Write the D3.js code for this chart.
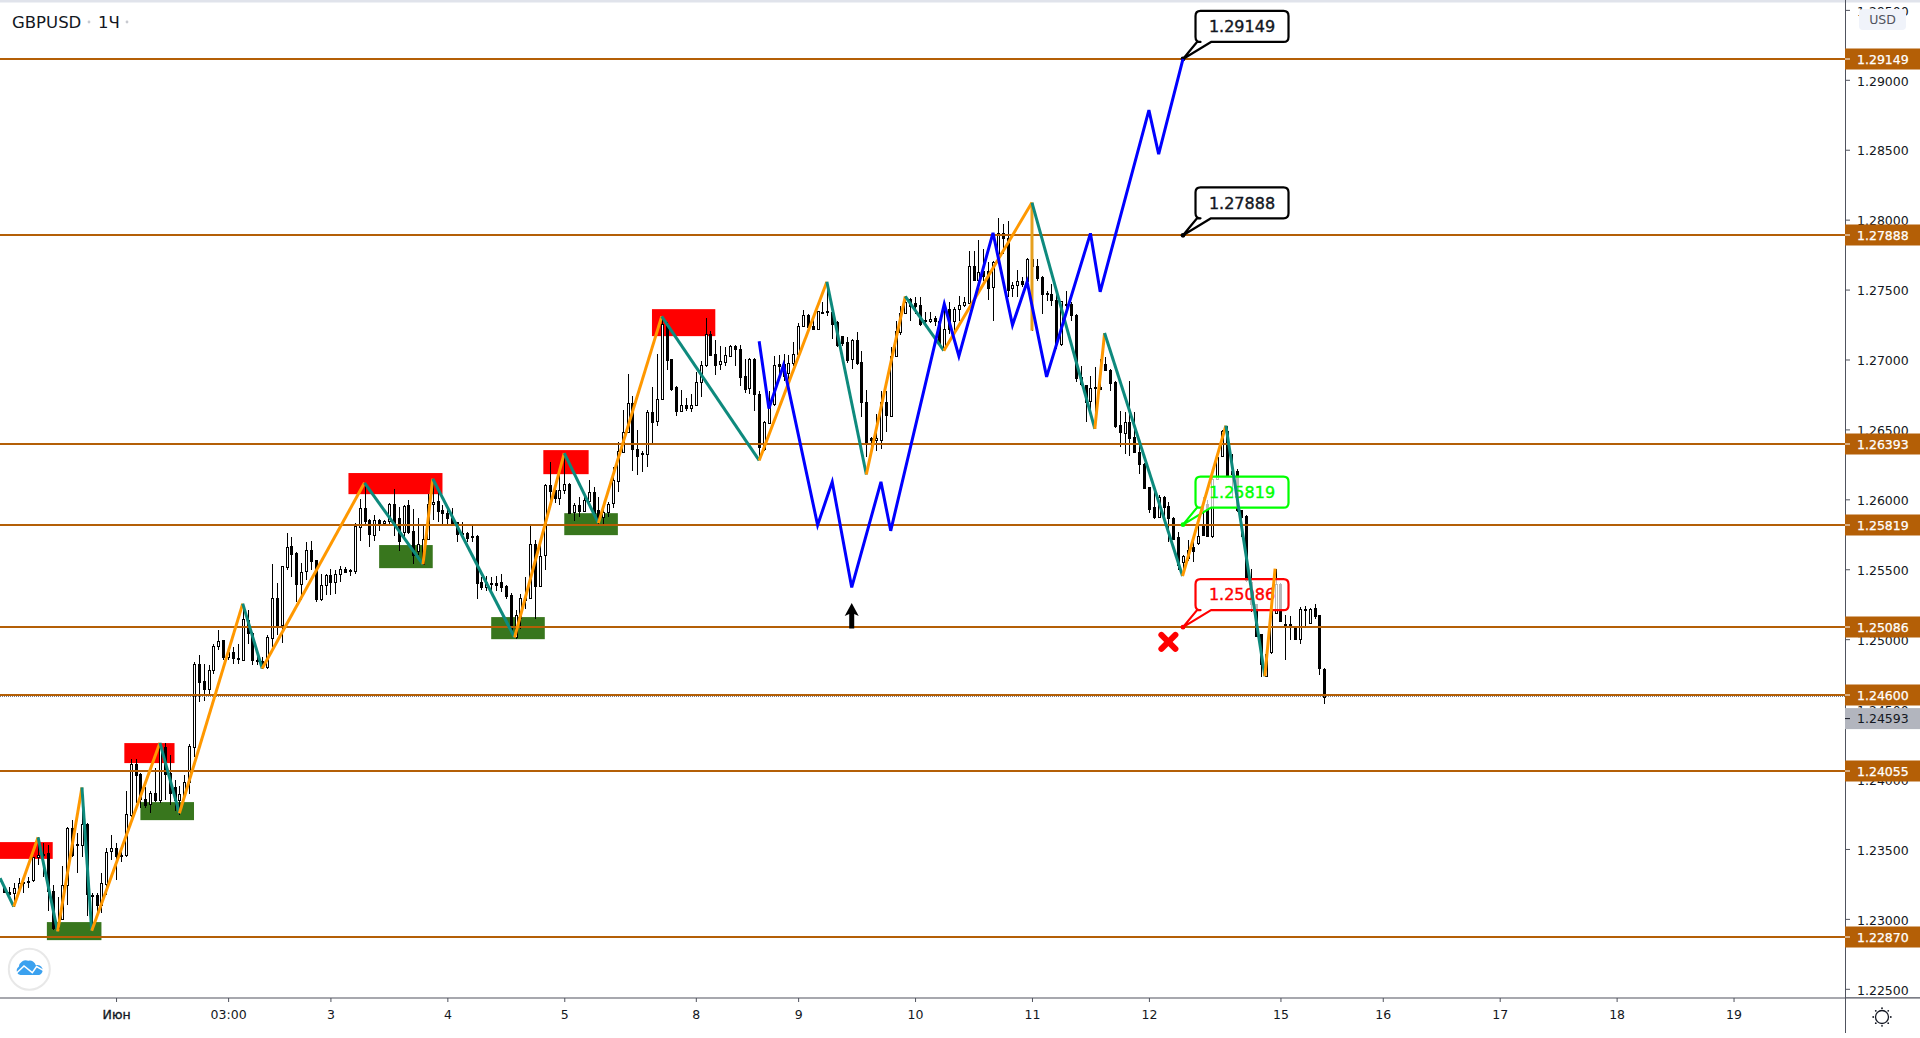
<!DOCTYPE html>
<html>
<head>
<meta charset="utf-8">
<title>GBPUSD</title>
<script src="https://cdn.jsdelivr.net/npm/d3@7"></script>
<style>
	html,body{margin:0;padding:0;background:#fff;overflow:hidden;}
	svg{display:block;}
	text{font-family:"DejaVu Sans",sans-serif;}
</style>
</head>
<body>
<svg id="chart" width="1920" height="1038"></svg>
<script>
//candles, one row per hour: open, high, low, close
var candlesMay29=[
[1.23226,1.23243,1.23184,1.23188],[1.23195,1.23231,1.23160,1.23184],[1.23184,1.23255,1.23088,1.23219],[1.23219,1.23291,1.23184,1.23260],
[1.23267,1.23279,1.23184,1.23260],[1.23274,1.23303,1.23219,1.23267],[1.23279,1.23445,1.23267,1.23441],[1.23441,1.23583,1.23386,1.23457],
[1.23464,1.23541,1.23303,1.23457],[1.23469,1.23529,1.23053,1.23195],[1.23200,1.23243,1.22922,1.22934],[1.22934,1.23160,1.22905,1.22946],
[1.22998,1.23381,1.22993,1.23241],[1.23243,1.23660,1.23100,1.23648],[1.23648,1.23707,1.23445,1.23457],[1.23533,1.23612,1.23326,1.23526],
[1.23529,1.23898,1.23445,1.23676],[1.23676,1.23683,1.23017,1.23172],[1.23172,1.23184,1.22922,1.23165],[1.23172,1.23184,1.23041,1.23100],
[1.23100,1.23326,1.23041,1.23255],[1.23255,1.23505,1.23172,1.23481],[1.23481,1.23600,1.23422,1.23505]];

var candlesJun1=[
[1.23505,1.23541,1.23279,1.23445],[1.23457,1.23505,1.23410,1.23450],[1.23457,1.23914,1.23445,1.23748],[1.23743,1.24140,1.23731,1.24107],
[1.24107,1.24140,1.23826,1.24028],[1.24033,1.24040,1.23790,1.23855],[1.23855,1.23945,1.23790,1.23814],[1.23821,1.23917,1.23755,1.23898],
[1.23898,1.24076,1.23838,1.23850],[1.23855,1.24255,1.23826,1.24231],[1.24231,1.24255,1.23850,1.24040],[1.24040,1.24171,1.23814,1.23898],
[1.23945,1.23993,1.23774,1.23850],[1.23845,1.23950,1.23743,1.23890],[1.23886,1.24028,1.23850,1.23976],[1.23981,1.24250,1.23893,1.24236],
[1.24236,1.24838,1.24159,1.24826],[1.24826,1.24885,1.24552,1.24695],[1.24700,1.24826,1.24559,1.24643],[1.24647,1.24814,1.24600,1.24783],
[1.24783,1.24964,1.24754,1.24952],[1.24952,1.25064,1.24921,1.24988],[1.24992,1.24997,1.24854,1.24869],[1.24873,1.24945,1.24850,1.24909],
[1.24909,1.24945,1.24826,1.24869],[1.24869,1.24969,1.24826,1.24861],[1.24854,1.25254,1.24850,1.25147],[1.25135,1.25207,1.24969,1.25040],
[1.25045,1.25052,1.24814,1.24850],[1.24854,1.24885,1.24814,1.24847],[1.24845,1.24873,1.24790,1.24802],[1.24802,1.25028,1.24790,1.25016],
[1.25011,1.25540,1.24945,1.25298],[1.25298,1.25405,1.25029,1.25100],[1.25100,1.25521,1.24974,1.25521],[1.25517,1.25759,1.25493,1.25659],
[1.25664,1.25731,1.25445,1.25607],[1.25617,1.25624,1.25267,1.25398],[1.25398,1.25545,1.25279,1.25483],[1.25483,1.25695,1.25421,1.25636],
[1.25636,1.25700,1.25493,1.25559],[1.25564,1.25564,1.25267,1.25286],[1.25286,1.25469,1.25274,1.25386],[1.25386,1.25469,1.25314,1.25457]];

var candlesJun3=[
[1.25457,1.25505,1.25314,1.25409],[1.25409,1.25493,1.25326,1.25469],[1.25469,1.25521,1.25409,1.25505],[1.25505,1.25517,1.25481,1.25486],
[1.25495,1.25505,1.25452,1.25488],[1.25486,1.25833,1.25469,1.25807],[1.25807,1.26004,1.25702,1.25940],[1.25940,1.26114,1.25826,1.25845],
[1.25850,1.25862,1.25659,1.25747],[1.25747,1.25885,1.25702,1.25855],[1.25855,1.25862,1.25774,1.25831],[1.25831,1.25850,1.25826,1.25845],
[1.25845,1.25974,1.25814,1.25964],[1.25964,1.26075,1.25735,1.25814],[1.25868,1.25945,1.25630,1.25707],[1.25766,1.25956,1.25730,1.25952],
[1.25956,1.25992,1.25754,1.25766],[1.25771,1.25933,1.25540,1.25599],[1.25630,1.25868,1.25599,1.25683],[1.25540,1.25826,1.25535,1.25718],
[1.25718,1.26040,1.25707,1.25968],[1.25968,1.26147,1.25849,1.25983],[1.25985,1.26052,1.25837,1.25916],[1.25921,1.25956,1.25821,1.25902]];

var candlesJun4=[
[1.25904,1.25933,1.25826,1.25866],[1.25868,1.25940,1.25807,1.25833],[1.25837,1.25837,1.25695,1.25749],[1.25759,1.25837,1.25730,1.25749],
[1.25759,1.25766,1.25695,1.25726],[1.25735,1.25807,1.25695,1.25728],[1.25735,1.25742,1.25285,1.25402],[1.25407,1.25445,1.25350,1.25373],
[1.25373,1.25450,1.25345,1.25407],[1.25402,1.25445,1.25345,1.25395],[1.25404,1.25450,1.25345,1.25393],[1.25407,1.25464,1.25338,1.25373],
[1.25378,1.25385,1.25290,1.25307],[1.25314,1.25331,1.25035,1.25064],[1.25016,1.25207,1.25004,1.25171],[1.25154,1.25326,1.25076,1.25297],
[1.25302,1.25445,1.25219,1.25278],[1.25297,1.25807,1.25290,1.25683],[1.25683,1.25707,1.25147,1.25381],[1.25381,1.25702,1.25373,1.25597],
[1.25597,1.26111,1.25497,1.26099],[1.26099,1.26266,1.25968,1.26059],[1.26064,1.26123,1.25973,1.26004],[1.26009,1.26183,1.25956,1.26068]];

var candlesJun5=[
[1.26068,1.26325,1.26040,1.26111],[1.26111,1.26116,1.25897,1.25904],[1.25909,1.25973,1.25845,1.25956],[1.25956,1.26016,1.25873,1.25916],
[1.25916,1.26016,1.25909,1.25992],[1.25992,1.26135,1.25945,1.26056],[1.26056,1.26087,1.25897,1.25909],[1.25921,1.26016,1.25826,1.25837],
[1.25873,1.25945,1.25807,1.25909],[1.25909,1.25980,1.25873,1.25968],[1.25968,1.26230,1.25937,1.26135],[1.26135,1.26409,1.26052,1.26349],
[1.26342,1.26640,1.26337,1.26485],[1.26485,1.26897,1.26480,1.26690],[1.26690,1.26742,1.26206,1.26361],[1.26361,1.26499,1.26171,1.26313],
[1.26330,1.26349,1.26194,1.26321],[1.26325,1.26640,1.26230,1.26628],[1.26628,1.26801,1.26385,1.26559],[1.26559,1.27039,1.26521,1.26718],
[1.26718,1.27306,1.26711,1.27254],[1.27254,1.27265,1.26925,1.26997],[1.27000,1.27000,1.26778,1.26789],[1.26801,1.26813,1.26599,1.26630],
[1.26630,1.26782,1.26623,1.26675],[1.26675,1.26725,1.26630,1.26654],[1.26654,1.26754,1.26628,1.26675]];

var candlesJun8=[
[1.26675,1.26908,1.26670,1.26839],[1.26839,1.26992,1.26735,1.26963],[1.26958,1.27294,1.26949,1.27182],[1.27182,1.27206,1.27027,1.27035],
[1.27039,1.27139,1.26892,1.26963],[1.26968,1.27099,1.26925,1.26992],[1.26987,1.27087,1.26956,1.27035],[1.27030,1.27104,1.27016,1.27099],
[1.27099,1.27104,1.26956,1.27075],[1.27075,1.27104,1.26813,1.26878],[1.26885,1.27004,1.26759,1.26794],[1.26797,1.27011,1.26754,1.27004],
[1.27004,1.27008,1.26635,1.26754],[1.26754,1.26778,1.26302,1.26373],[1.26361,1.26563,1.26344,1.26554],[1.26551,1.26778,1.26544,1.26678],
[1.26678,1.27027,1.26670,1.26958],[1.26968,1.27035,1.26854,1.26956],[1.26968,1.27039,1.26849,1.26885],[1.26904,1.27035,1.26825,1.26975],
[1.26973,1.27127,1.26956,1.27039]];

var candlesJun9=[
[1.27039,1.27258,1.27016,1.27237],[1.27237,1.27354,1.27230,1.27318],[1.27318,1.27325,1.27218,1.27230],[1.27237,1.27289,1.27213,1.27218],
[1.27218,1.27349,1.27213,1.27344],[1.27339,1.27408,1.27325,1.27332],[1.27344,1.27551,1.27313,1.27337],[1.27342,1.27384,1.27146,1.27258],
[1.27265,1.27277,1.27092,1.27099],[1.27170,1.27170,1.27094,1.27123],[1.27127,1.27158,1.26973,1.26999],[1.27004,1.27146,1.26932,1.27139],
[1.27139,1.27199,1.26961,1.26973],[1.26980,1.27063,1.26587,1.26694],[1.26699,1.26782,1.26302,1.26409],[1.26440,1.26444,1.26325,1.26425],
[1.26425,1.26611,1.26349,1.26440],[1.26421,1.26778,1.26361,1.26694],[1.26694,1.26778,1.26480,1.26599],[1.26599,1.27087,1.26592,1.27027],
[1.27027,1.27277,1.27016,1.27206],[1.27194,1.27384,1.27177,1.27332],[1.27332,1.27456,1.27325,1.27408]];

var candlesJun10=[
[1.27432,1.27439,1.27277,1.27384],[1.27404,1.27444,1.27325,1.27384],[1.27392,1.27444,1.27242,1.27254],[1.27282,1.27337,1.27230,1.27273],
[1.27273,1.27337,1.27258,1.27289],[1.27296,1.27313,1.27242,1.27277],[1.27277,1.27277,1.27099,1.27111],[1.27087,1.27415,1.27063,1.27218],
[1.27361,1.27408,1.27182,1.27218],[1.27273,1.27373,1.27194,1.27361],[1.27361,1.27456,1.27277,1.27392],[1.27389,1.27449,1.27373,1.27413],
[1.27408,1.27777,1.27401,1.27670],[1.27670,1.27777,1.27563,1.27570],[1.27570,1.27853,1.27473,1.27627],[1.27634,1.27789,1.27563,1.27599],
[1.27634,1.27694,1.27427,1.27515],[1.27515,1.27706,1.27273,1.27694],[1.27694,1.28015,1.27682,1.27903],[1.27903,1.27968,1.27753,1.27865],
[1.27872,1.27991,1.27444,1.27503],[1.27511,1.27551,1.27444,1.27532],[1.27532,1.27639,1.27444,1.27563],[1.27563,1.27587,1.27515,1.27544],
[1.27563,1.27725,1.27515,1.27718]];

var candlesJun11=[
[1.27718,1.28122,1.27206,1.27670],[1.27670,1.27718,1.27563,1.27587],[1.27587,1.27599,1.27325,1.27468],[1.27473,1.27492,1.27420,1.27463],
[1.27468,1.27539,1.27384,1.27425],[1.27425,1.27515,1.27075,1.27111],[1.27104,1.27420,1.27094,1.27415],[1.27396,1.27492,1.27325,1.27387],
[1.27396,1.27408,1.27277,1.27318],[1.27320,1.27325,1.26837,1.26868],[1.26873,1.26956,1.26813,1.26820],[1.26820,1.26820,1.26551,1.26701],
[1.26701,1.26885,1.26623,1.26797],[1.26801,1.26944,1.26504,1.26792],[1.26806,1.27004,1.26782,1.26789],[1.26968,1.27016,1.26920,1.26928],
[1.26928,1.26932,1.26778,1.26832],[1.26837,1.26849,1.26511,1.26521],[1.26528,1.26635,1.26373,1.26475],[1.26475,1.26623,1.26325,1.26551],
[1.26551,1.26849,1.26313,1.26440],[1.26444,1.26623,1.26333,1.26337],[1.26337,1.26402,1.26183,1.26254]];

var candlesJun12=[
[1.26254,1.26259,1.26075,1.26083],[1.26087,1.26087,1.25902,1.25933],[1.25945,1.26064,1.25861,1.25873],[1.25873,1.26028,1.25868,1.26016],
[1.26016,1.26021,1.25873,1.25945],[1.25949,1.25980,1.25695,1.25861],[1.25866,1.25873,1.25707,1.25718],[1.25728,1.25766,1.25492,1.25528],
[1.25552,1.25599,1.25456,1.25592],[1.25575,1.25706,1.25559,1.25635],[1.25659,1.25730,1.25552,1.25630],[1.25683,1.25813,1.25671,1.25735],
[1.25813,1.26016,1.25735,1.25742],[1.25968,1.25992,1.25730,1.25742],[1.25742,1.26159,1.25725,1.26147],[1.26147,1.26313,1.26135,1.26301],
[1.26313,1.26497,1.26301,1.26492],[1.26492,1.26527,1.26170,1.26178],[1.26206,1.26325,1.26016,1.26187],[1.26201,1.26218,1.25909,1.25921],
[1.25921,1.25921,1.25730,1.25873],[1.25880,1.25885,1.25409,1.25421],[1.25409,1.25504,1.25195,1.25254],[1.25254,1.25254,1.25016,1.25028],
[1.25040,1.25040,1.24731,1.24826],[1.24742,1.24909,1.24731,1.24897],[1.24904,1.25373,1.24897,1.25207]];

var candlesJun15=[
[1.25188,1.25504,1.25183,1.25397],[1.25397,1.25402,1.25123,1.25135],[1.25111,1.25171,1.24850,1.25102],[1.25107,1.25164,1.24992,1.25083],
[1.25083,1.25088,1.24992,1.25002],[1.25002,1.25230,1.24964,1.25218],[1.25218,1.25235,1.25088,1.25211],[1.25116,1.25226,1.25111,1.25218],
[1.25223,1.25254,1.25147,1.25164],[1.25171,1.25176,1.24742,1.24790],[1.24790,1.24795,1.24535,1.24593]];

var candles=[].concat(candlesMay29,candlesJun1,candlesJun3,candlesJun4,candlesJun5,candlesJun8,candlesJun9,candlesJun10,candlesJun11,candlesJun12,candlesJun15);

//axis labels
var priceTicks=[1.225,1.23,1.235,1.24,1.245,1.25,1.255,1.26,1.265,1.27,1.275,1.28,1.285,1.29,1.295];
var timeTickBars=[23,46,67,91,115,142,163,187,211,235,262,283,307,331,355];
var timeTickLabels=["Июн","03:00","3","4","5","8","9","10","11","12","15","16","17","18","19"];

//horizontal levels
var levels=[1.29149,1.27888,1.26393,1.25819,1.25086,1.24600,1.24055,1.22870];
var lastPrice=1.24593;

//zigzag pivots
var zigBars=[-0.8,2,7,11,16,18,32,36,49,53,74,86,88,104.8,115,122,135,155,168.9,177,185,192.9,211,223.9,225.9,241.9,250.8,258.8,260.9];
var zigPrices=[1.23291,1.23088,1.23583,1.22910,1.23940,1.22915,1.24259,1.23755,1.25254,1.24790,1.26118,1.25535,1.26147,1.25012,1.26330,1.25830,1.27308,1.26278,1.27556,1.26178,1.27451,1.27063,1.28122,1.26504,1.27189,1.25452,1.26527,1.24735,1.25504];

//blue projection
var projBars=[155,157,160,167,170,174,180,182,193,196,203,207,210,214,223,225,235,237,242];
var projPrices=[1.27131,1.26650,1.26960,1.25816,1.26125,1.25370,1.26125,1.25775,1.27396,1.27024,1.27906,1.27246,1.27556,1.26876,1.27902,1.27484,1.28783,1.28469,1.29149];

//supply and demand boxes
var zoneFrom=[-1,24.7,70.7,110.7,133,8.8,28,77,100,115];
var zoneTo=[10,35,90,120,146,20,39,88,111,126];
var zoneTop=[1.23549,1.24257,1.26188,1.26352,1.27360,1.22977,1.23835,1.25673,1.25158,1.25901];
var zoneBottom=[1.23429,1.24114,1.26037,1.26180,1.27167,1.22848,1.23706,1.25508,1.25000,1.25744];
var zoneColors=["#ff0000","#ff0000","#ff0000","#ff0000","#ff0000","#38761d","#38761d","#38761d","#38761d","#38761d"];

//callouts
var calloutPrices=[1.29149,1.27888,1.25819,1.25086];
var calloutColors=["#000000","#000000","#00ff00","#ff0000"];
var calloutBar=242;

var wickBar=211, wickHigh=1.28122, wickLow=1.27206;
var crossBar=239, crossPrice=1.24981;
var arrowBar=174, arrowPrice=1.25165;

var svg=d3.select("#chart");

var x=d3.scaleLinear().domain([0,271]).range([4,1324.3]);
var y=d3.scaleLinear().domain([1.225,1.29]).range([988.8,79.8]);

var axisX=1845, axisY=998;

var plot=svg.append("g");

plot.append("rect")
	.attr("width",1920).attr("height",2.5).attr("fill","#e0e3eb");

//zones sit under the candles
plot.selectAll(".zone")
	.data(zoneFrom)
	.enter()
	.append("rect")
	.attr("class","zone")
	.attr("x",function(d){return x(d)})
	.attr("width",function(d,i){return x(zoneTo[i])-x(d)})
	.attr("y",function(d,i){return y(zoneTop[i])})
	.attr("height",function(d,i){return y(zoneBottom[i])-y(zoneTop[i])})
	.attr("fill",function(d,i){return zoneColors[i]});

var bars=plot.append("g").attr("shape-rendering","crispEdges");

bars.selectAll("line")
	.data(candles)
	.enter()
	.append("line")
	.attr("x1",function(d,i){return Math.round(x(i))+0.5})
	.attr("x2",function(d,i){return Math.round(x(i))+0.5})
	.attr("y1",function(d){return y(d[1])})
	.attr("y2",function(d){return y(d[2])})
	.attr("stroke","#000");

bars.selectAll("rect")
	.data(candles)
	.enter()
	.append("rect")
	.attr("x",function(d,i){return Math.round(x(i))-0.5})
	.attr("width",2)
	.attr("y",function(d){return Math.round(y(Math.max(d[0],d[3])))+0.5})
	.attr("height",function(d){return Math.max(1,Math.round(Math.abs(y(d[0])-y(d[3]))))})
	.attr("fill",function(d){return d[3]<d[0]?"#000":"#fff"})
	.attr("stroke","#000");

//last price line
plot.append("line")
	.attr("x1",0).attr("x2",axisX)
	.attr("y1",Math.round(y(lastPrice))+0.5).attr("y2",Math.round(y(lastPrice))+0.5)
	.attr("stroke","#787b86")
	.attr("stroke-dasharray","1 1");

plot.selectAll(".level")
	.data(levels)
	.enter()
	.append("line")
	.attr("class","level")
	.attr("x1",0).attr("x2",axisX)
	.attr("y1",function(d){return Math.round(y(d))})
	.attr("y2",function(d){return Math.round(y(d))})
	.attr("stroke","#b45f06")
	.attr("stroke-width",2);

//callouts
var calloutPath=function(ax,ay){
	var x0=ax+12.5,x1=ax+105.5,y0=ay-48,y1=ay-17,r=5;
	return "M"+(x0+r)+","+y0+"H"+(x1-r)+"Q"+x1+","+y0+" "+x1+","+(y0+r)+"V"+(y1-r)+"Q"+x1+","+y1+" "+(x1-r)+","+y1
		+"H"+(ax+28)+"L"+ax+","+ay+"L"+(ax+14)+","+y1+"H"+(x0+r)+"Q"+x0+","+y1+" "+x0+","+(y1-r)+"V"+(y0+r)+"Q"+x0+","+y0+" "+(x0+r)+","+y0+"Z";
};

var callouts=plot.selectAll(".callout")
	.data(calloutPrices)
	.enter()
	.append("g")
	.attr("class","callout");

callouts.append("path")
	.attr("d",function(d){return calloutPath(x(calloutBar),y(d))})
	.attr("fill","rgba(255,255,255,0.72)")
	.attr("stroke",function(d,i){return calloutColors[i]})
	.attr("stroke-width",2.2)
	.attr("stroke-linejoin","round");

callouts.append("circle")
	.attr("cx",x(calloutBar))
	.attr("cy",function(d){return y(d)})
	.attr("r",2.4)
	.attr("fill",function(d,i){return calloutColors[i]});

callouts.append("text")
	.attr("x",x(calloutBar)+59)
	.attr("y",function(d){return y(d)-32.5})
	.attr("dy","0.36em")
	.attr("text-anchor","middle")
	.style("font-size","16px")
	.attr("fill",function(d,i){return calloutColors[i]=="#000000"?"#131722":calloutColors[i]})
	.attr("stroke",function(d,i){return calloutColors[i]=="#000000"?"#131722":calloutColors[i]})
	.attr("stroke-width",0.4)
	.text(function(d){return d.toFixed(5)});

//thick wick under the zigzag
plot.append("line")
	.attr("x1",x(wickBar)).attr("x2",x(wickBar))
	.attr("y1",y(wickHigh)).attr("y2",y(wickLow))
	.attr("stroke","#e6a01e")
	.attr("stroke-width",3);

//zigzag, falling legs teal and rising legs orange
var zigLine=d3.line()
	.x(function(d){return x(d[0])})
	.y(function(d){return y(d[1])});

plot.selectAll(".zig")
	.data(zigBars.slice(1))
	.enter()
	.append("path")
	.attr("class","zig")
	.attr("d",function(d,i){return zigLine([[zigBars[i],zigPrices[i]],[d,zigPrices[i+1]]])})
	.attr("fill","none")
	.attr("stroke",function(d,i){return zigPrices[i+1]<zigPrices[i]?"#0e8a7d":"#ff9800"})
	.attr("stroke-width",3);

plot.append("path")
	.attr("d",zigLine(projBars.map(function(d,i){return [d,projPrices[i]]})))
	.attr("fill","none")
	.attr("stroke","#0000ff")
	.attr("stroke-width",3);

//red cross
var cross=plot.append("g")
	.attr("transform","translate("+x(crossBar)+","+y(crossPrice)+")")
	.attr("stroke","#ff0000")
	.attr("stroke-width",6)
	.attr("stroke-linecap","round");
cross.append("line").attr("x1",-7).attr("y1",-7).attr("x2",7).attr("y2",7);
cross.append("line").attr("x1",-7).attr("y1",7).attr("x2",7).attr("y2",-7);

//up arrow
plot.append("path")
	.attr("transform","translate("+x(arrowBar)+","+y(arrowPrice)+")")
	.attr("d","M0,-13 L7,0 L2.5,-2 V12.5 H-2.5 V-2 L-7,0 Z")
	.attr("fill","#000");

//price scale
var priceAxis=d3.axisRight(y)
	.tickValues(priceTicks)
	.tickFormat(d3.format(".5f"))
	.tickSize(5)
	.tickPadding(7);

var priceG=svg.append("g")
	.attr("transform","translate("+axisX+",0)")
	.call(priceAxis);

priceG.select(".domain").remove();
priceG.selectAll("line").attr("stroke","#50535e");
priceG.selectAll("text")
	.attr("fill","#131722")
	.attr("dy","0.42em")
	.style("font-size","12.5px")
	.style("font-family","'DejaVu Sans',sans-serif");

svg.append("line")
	.attr("x1",axisX+0.5).attr("x2",axisX+0.5)
	.attr("y1",0).attr("y2",1033)
	.attr("stroke","#50535e");

//level tags on the scale
var tags=svg.selectAll(".tag")
	.data(levels)
	.enter()
	.append("g")
	.attr("class","tag")
	.attr("transform",function(d){return "translate("+axisX+","+Math.round(y(d))+")"});

tags.append("rect")
	.attr("y",-10.5).attr("width",75).attr("height",21)
	.attr("fill","#b45f06");
tags.append("line")
	.attr("x1",0).attr("x2",5)
	.attr("stroke","#fff");
tags.append("text")
	.attr("x",12).attr("dy","0.36em")
	.attr("fill","#fff")
	.attr("stroke","#fff")
	.attr("stroke-width",0.25)
	.style("font-size","12.5px")
	.text(function(d){return d.toFixed(5)});

//last price tag is pushed below the level tag
var lastTag=svg.append("g")
	.attr("transform","translate("+axisX+","+(y(lastPrice)+22.5)+")");
lastTag.append("rect")
	.attr("y",-10.5).attr("width",75).attr("height",21)
	.attr("fill","#b2b5be");
lastTag.append("line")
	.attr("x1",0).attr("x2",5)
	.attr("stroke","#131722");
lastTag.append("text")
	.attr("x",12).attr("dy","0.36em")
	.attr("fill","#131722")
	.style("font-size","12.5px")
	.text(lastPrice.toFixed(5));

//time scale
var timeAxis=d3.axisBottom(x)
	.tickValues(timeTickBars)
	.tickFormat(function(d,i){return timeTickLabels[i]})
	.tickSize(4)
	.tickPadding(8);

var timeG=svg.append("g")
	.attr("transform","translate(0,"+axisY+")")
	.call(timeAxis);

timeG.select(".domain").remove();
timeG.selectAll("line").attr("stroke","#50535e");
timeG.selectAll("text")
	.attr("fill","#131722")
	.style("font-size","12.5px")
	.style("font-family","'DejaVu Sans',sans-serif");

//month label reads heavier
timeG.selectAll("text")
	.filter(function(d,i){return i==0})
	.attr("stroke","#131722")
	.attr("stroke-width",0.35);

svg.append("rect")
	.attr("x",0).attr("y",axisY-0.5).attr("width",1920).attr("height",1)
	.attr("fill","#50535e");
svg.append("rect")
	.attr("x",axisX).attr("y",axisY).attr("width",75).attr("height",5)
	.attr("fill","#fff");
svg.append("rect")
	.attr("x",axisX).attr("y",axisY-0.5).attr("width",75).attr("height",1)
	.attr("fill","#50535e");
svg.append("line")
	.attr("x1",axisX+0.5).attr("x2",axisX+0.5)
	.attr("y1",axisY).attr("y2",1033)
	.attr("stroke","#50535e");

//currency button
svg.append("rect")
	.attr("x",1859).attr("y",9).attr("width",47).attr("height",21).attr("rx",4)
	.attr("fill","#f0f3fa");
svg.append("text")
	.attr("x",1882.5).attr("y",19.5).attr("dy","0.36em")
	.attr("text-anchor","middle")
	.attr("fill","#50535e")
	.style("font-size","12.5px")
	.text("USD");

//settings icon
var gear=svg.append("g").attr("transform","translate(1882,1017)");
gear.append("circle").attr("r",6.5).attr("fill","none").attr("stroke","#131722").attr("stroke-width",1.3);
gear.selectAll(".ray")
	.data(d3.range(8))
	.enter()
	.append("circle")
	.attr("class","ray")
	.attr("cx",function(d){return 8.8*Math.cos(d*Math.PI/4)})
	.attr("cy",function(d){return 8.8*Math.sin(d*Math.PI/4)})
	.attr("r",0.9)
	.attr("fill","#131722");

//title
svg.append("text")
	.attr("x",12).attr("y",22).attr("dy","0.36em")
	.attr("fill","#131722")
	.style("font-size","16.5px")
	.text("GBPUSD");
svg.append("text")
	.attr("x",98).attr("y",22).attr("dy","0.36em")
	.attr("fill","#131722")
	.style("font-size","16.5px")
	.text("1Ч");
svg.selectAll(".titledot")
	.data([89,127])
	.enter()
	.append("circle")
	.attr("class","titledot")
	.attr("cx",function(d){return d})
	.attr("cy",22)
	.attr("r",1.4)
	.attr("fill","#c8cad0");

//logo
var logo=svg.append("g").attr("transform","translate(29.3,969.3)");
logo.append("circle").attr("r",20.5).attr("fill","#fff").attr("stroke","#e8e8e8").attr("stroke-width",2);
logo.append("path")
	.attr("d","M-9,5.7 A4.5,4.5 0 0 1 -10.5,-2.5 A7,7 0 0 1 -1,-8.5 A6,6 0 0 1 6.5,-4 A5,5 0 0 1 10,5.7 Z")
	.attr("fill","#3ba1ef");
logo.append("path")
	.attr("d","M-13,4 L-5.3,-3.3 L3,3.3 L7.3,-2.7 L14,1")
	.attr("fill","none")
	.attr("stroke","#fff")
	.attr("stroke-width",1.5);
</script>
</body>
</html>
